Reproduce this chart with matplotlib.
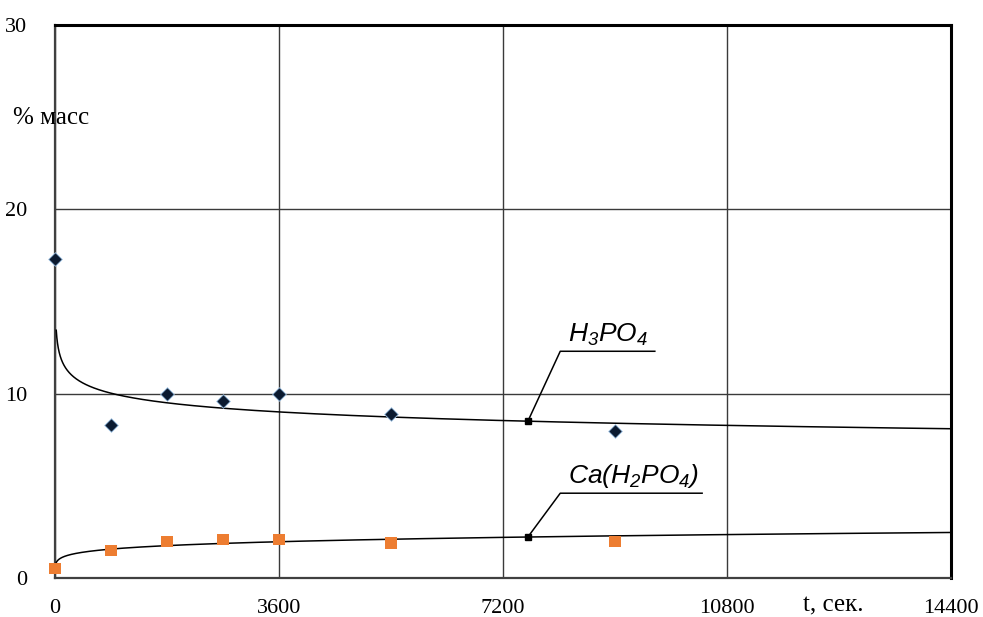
import numpy as np
import matplotlib
matplotlib.use("Agg")
import matplotlib.pyplot as plt

plt.rcParams["mathtext.fontset"] = "custom"
plt.rcParams["mathtext.it"] = "Liberation Sans:italic"
plt.rcParams["mathtext.rm"] = "Liberation Sans:italic"

# time, s (first sample is at the very start)
t_h3po4 = np.array([0, 900, 1800, 2700, 3600, 5400, 9000])
h3po4 = np.array([17.3, 8.3, 10.0, 9.6, 10.0, 8.9, 8.0])

t_ca = np.array([0, 900, 1800, 2700, 3600, 5400, 9000])
ca = np.array([0.5, 1.5, 2.0, 2.1, 2.1, 1.9, 2.0])

x_ticks = [0, 3600, 7200, 10800, 14400]
y_ticks = [0, 10, 20, 30]


def power_fit(t, y):
    # Excel-like power trendline, t=0 taken as 1 s
    tt = np.maximum(t, 1)
    b, lna = np.polyfit(np.log(tt), np.log(y), 1)
    return np.exp(lna), b


fig = plt.figure(figsize=(9.83, 6.17), dpi=100)
ax = fig.add_axes([55 / 983, 1 - 578 / 617, 896 / 983, 553 / 617])

tc = np.geomspace(20, 14400, 400)
a1, b1 = power_fit(t_h3po4, h3po4)
a2, b2 = power_fit(t_ca, ca)
ax.plot(tc, a1 * tc ** b1, color="black", lw=1.1, zorder=3)
ax.plot(tc, a2 * tc ** b2, color="black", lw=1.1, zorder=3)

ax.scatter(t_h3po4, h3po4, marker="D", s=48, color="#0b1a30",
           edgecolors="#9ec3e6", linewidths=0.6, zorder=4, clip_on=False)
ax.scatter(t_ca, ca, marker="s", s=64, color="#ed7d31",
           edgecolors="none", zorder=4, clip_on=False)

ax.set_xlim(0, 14400)
ax.set_ylim(0, 30)
ax.set_xticks(x_ticks)
ax.set_yticks(y_ticks)
ax.tick_params(length=0, labelsize=16)
ax.tick_params(axis="y", pad=20)
ax.tick_params(axis="x", pad=15)
for lab in ax.get_xticklabels() + ax.get_yticklabels():
    lab.set_family("Liberation Serif")

ax.grid(True, color="#3a3a3a", lw=1.0)
ax.set_axisbelow(True)
for side in ["top", "right"]:
    ax.spines[side].set_color("black")
    ax.spines[side].set_linewidth(2.2)
for side in ["left", "bottom"]:
    ax.spines[side].set_color("#404040")
    ax.spines[side].set_linewidth(1.6)

fig.text(13 / 983, 1 - 118 / 617, "% масс", family="Liberation Serif",
         fontsize=18, va="center", ha="left")
fig.text(833 / 983, 1 - 605 / 617, "t, сек.", family="Liberation Serif",
         fontsize=18, va="center", ha="center")

# labels of the trend lines
t_pt = 7600
for a, b, ytxt, x_end, txt in [
    (a1, b1, 12.3, 9640, r"$H_3PO_4$"),
    (a2, b2, 4.6, 10400, r"$Ca(H_2PO_4)$"),
]:
    y_pt = a * t_pt ** b
    ax.plot([t_pt, 8120, x_end], [y_pt, ytxt, ytxt], color="black", lw=1.1, zorder=5)
    ax.plot([t_pt], [y_pt], marker="s", ms=4, color="black", zorder=6)
    ax.text(8250, ytxt + 0.2, txt, ha="left", va="bottom", fontsize=19)

fig.savefig("out.png", dpi=100)
